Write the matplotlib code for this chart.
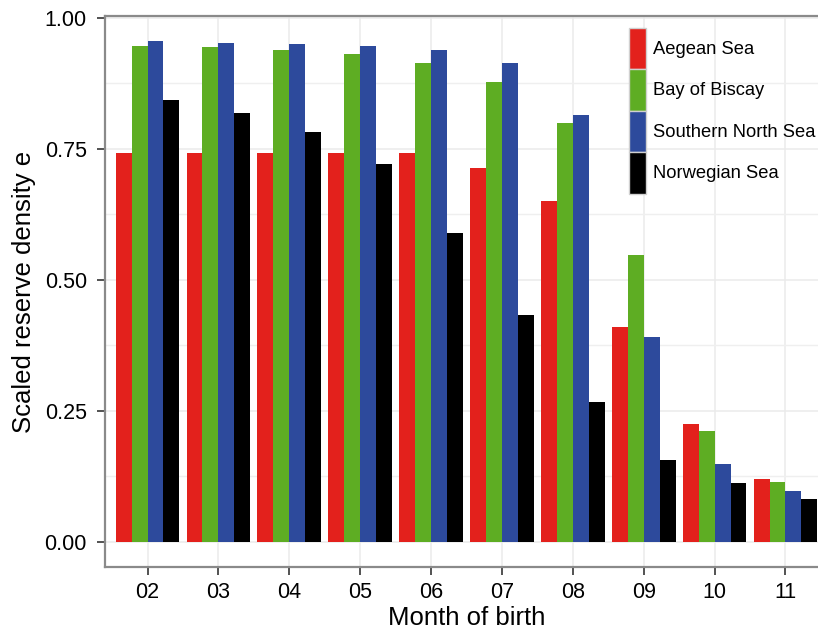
import numpy as np
import matplotlib.pyplot as plt
from matplotlib.ticker import MultipleLocator

plt.rcParams['font.family'] = ['Liberation Sans', 'DejaVu Sans']

months = ['02', '03', '04', '05', '06', '07', '08', '09', '10', '11']
aegean = [0.743, 0.743, 0.743, 0.743, 0.743, 0.714, 0.650, 0.411, 0.225, 0.120]
biscay = [0.947, 0.945, 0.939, 0.931, 0.914, 0.878, 0.800, 0.547, 0.211, 0.114]
north_sea = [0.956, 0.953, 0.950, 0.947, 0.939, 0.914, 0.815, 0.392, 0.149, 0.097]
norwegian = [0.844, 0.819, 0.782, 0.722, 0.589, 0.434, 0.267, 0.156, 0.112, 0.082]

series = [('Aegean Sea', aegean, '#E3211C'),
          ('Bay of Biscay', biscay, '#5EAD23'),
          ('Southern North Sea', north_sea, '#2D4A9C'),
          ('Norwegian Sea', norwegian, '#000000')]

fig = plt.figure(figsize=(8.18, 6.31), dpi=100)
W, H = 818, 631
# axes box runs past the right edge of the picture
ax = fig.add_axes([105 / W, (H - 567) / H, 723 / W, 551 / H])

x = np.arange(len(months))
w = 0.9 / 4
for i, (name, vals, col) in enumerate(series):
    ax.bar(x - 0.45 + w * (i + 0.5), vals, width=w, color=col, label=name,
           zorder=3, linewidth=0)

ax.set_xlim(-0.6, 9.6)
ax.set_ylim(-0.0478, 1.0036)
ax.set_xticks(x)
ax.set_xticklabels(months)
ax.yaxis.set_minor_locator(MultipleLocator(0.125))
ax.set_yticks([0, 0.25, 0.5, 0.75, 1.0])
ax.set_yticklabels(['0.00', '0.25', '0.50', '0.75', '1.00'])

ax.grid(True, which='major', color='#EBEBEB', lw=1.1, zorder=0)
ax.grid(True, which='minor', axis='y', color='#EFEFEF', lw=1.0, zorder=0)
ax.set_axisbelow(True)

for s in ['left', 'top', 'bottom', 'right']:
    ax.spines[s].set_color('#8A8A8A')
    ax.spines[s].set_linewidth(1.6)
ax.tick_params(which='major', length=6, width=1.3, color='#444444',
               labelsize=15.5, labelcolor='black')
ax.tick_params(axis='y', pad=7)
ax.tick_params(axis='x', pad=5)
ax.tick_params(which='minor', length=0)

ax.set_xlabel('Month of birth', fontsize=18.5, labelpad=2)
ax.set_ylabel('Scaled reserve density e', fontsize=18.5, labelpad=6)

leg = ax.legend(loc='upper left', bbox_to_anchor=(629 / W, (H - 28) / H),
                bbox_transform=fig.transFigure, frameon=False, fontsize=13.2,
                handlelength=0.95, handleheight=3.1, labelspacing=0.0,
                handletextpad=0.35, borderpad=0, borderaxespad=0)
for p in leg.get_patches():
    p.set_edgecolor('#D0D0D0')
    p.set_linewidth(1.0)

fig.savefig('out.png', dpi=100)
